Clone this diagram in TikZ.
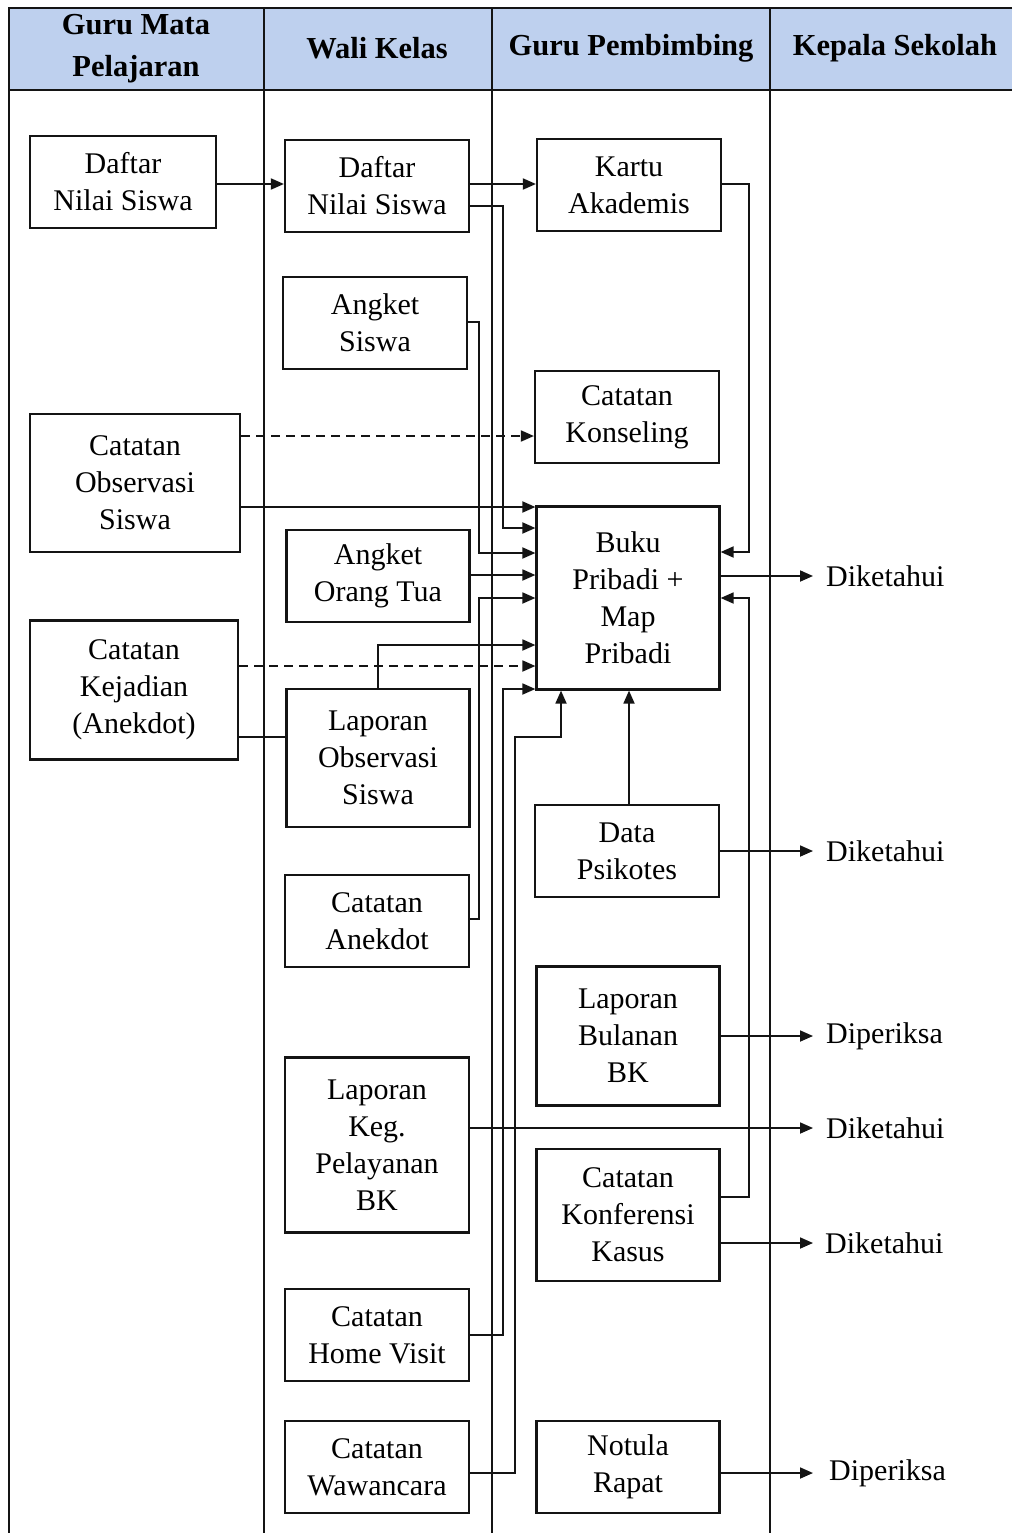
\documentclass[tikz,border=0pt]{standalone}
\usepackage{fontspec}
\setmainfont{Liberation Serif}
\usetikzlibrary{arrows.meta}
\definecolor{hdr}{RGB}{190,208,238}
\definecolor{ln}{RGB}{20,20,20}
\begin{document}
\begin{tikzpicture}[x=1pt,y=-1pt,
  box/.style={draw=ln,line width=2.2pt,align=center,inner sep=0pt,
    font=\fontsize{30}{37}\selectfont},
  hd/.style={align=center,inner sep=0pt,font=\bfseries\fontsize{30.5}{42}\selectfont},
  lbl/.style={anchor=west,inner sep=0pt,font=\fontsize{30}{37}\selectfont},
  tbl/.style={draw=ln,line width=2pt},
  con/.style={draw=ln,line width=1.8pt},
  arr/.style={con,-{Triangle[length=13pt,width=11pt]}},
  dsh/.style={arr,dash pattern=on 9pt off 6pt}]
\useasboundingbox (0,0) rectangle (1012,1533);
\fill[white] (0,0) rectangle (1012,1533);
% table
\fill[hdr] (9,8) rectangle (1012,90);
\draw[tbl] (1012,8) -- (9,8) -- (9,1533);
\draw[tbl] (9,90) -- (1012,90);
\draw[tbl] (264,8) -- (264,1533);
\draw[tbl] (492,8) -- (492,1533);
\draw[tbl] (770,8) -- (770,1533);
\node[hd] (h1) at (136,49) {Guru Mata\\Pelajaran};
\node[hd] (h2) at (377,48) {Wali Kelas};
\node[hd] (h3) at (631,48) {Guru Pembimbing};
\node[hd] (h4) at (895,48) {Kepala Sekolah};
% column 1
\node[box,minimum width=186pt,minimum height=92pt] (gd) at (123,182) {Daftar\\Nilai Siswa};
\node[box,minimum width=210pt,minimum height=138pt] (co) at (135,483) {Catatan\\Observasi\\Siswa};
\node[box,minimum width=208pt,minimum height=139pt] (ck) at (134,690) {Catatan\\Kejadian\\(Anekdot)};
% column 2
\node[box,minimum width=184pt,minimum height=92pt] (wd) at (377,186) {Daftar\\Nilai Siswa};
\node[box,minimum width=184pt,minimum height=92pt] (as) at (375,323) {Angket\\Siswa};
\node[box,minimum width=183pt,minimum height=92pt] (ao) at (378,576) {Angket\\Orang Tua};
\node[box,minimum width=183pt,minimum height=138pt] (lo) at (378,758) {Laporan\\Observasi\\Siswa};
\node[box,minimum width=184pt,minimum height=92pt] (ca) at (377,921) {Catatan\\Anekdot};
\node[box,minimum width=184pt,minimum height=175pt] (lk) at (377,1145) {Laporan\\Keg.\\Pelayanan\\BK};
\node[box,minimum width=184pt,minimum height=92pt] (hv) at (377,1335) {Catatan\\Home Visit};
\node[box,minimum width=184pt,minimum height=92pt] (cw) at (377,1467) {Catatan\\Wawancara};
% column 3
\node[box,minimum width=184pt,minimum height=92pt] (ka) at (629,185) {Kartu\\Akademis};
\node[box,minimum width=184pt,minimum height=92pt] (ks) at (627,417) {Catatan\\Konseling};
\node[box,minimum width=183pt,minimum height=183pt] (bp) at (628,598) {Buku\\Pribadi +\\Map\\Pribadi};
\node[box,minimum width=184pt,minimum height=92pt] (dp) at (627,851) {Data\\Psikotes};
\node[box,minimum width=183pt,minimum height=139pt] (lb) at (628,1036) {Laporan\\Bulanan\\BK};
\node[box,minimum width=183pt,minimum height=132pt] (kk) at (628,1215) {Catatan\\Konferensi\\Kasus};
\node[box,minimum width=183pt,minimum height=92pt] (nr) at (628,1467) {Notula\\Rapat};
% column 4 labels
\node[lbl] (d1) at (826,576) {Diketahui};
\node[lbl] (d2) at (826,851) {Diketahui};
\node[lbl] (p1) at (826,1036) {Diperiksa};
\node[lbl] (d3) at (826,1128) {Diketahui};
\node[lbl] (d4) at (825,1243) {Diketahui};
\node[lbl] (p2) at (829,1473) {Diperiksa};
% connectors
\draw[arr] (gd.east |- 0,184) -- (wd.west |- 0,184);
\draw[arr] (wd.east |- 0,184) -- (ka.west |- 0,184);
\draw[arr] (wd.east |- 0,206) -- (503,206) -- (503,528) -- (bp.west |- 0,528);
\draw[arr] (as.east |- 0,322) -- (479,322) -- (479,553) -- (bp.west |- 0,553);
\draw[dsh] (co.east |- 0,436) -- (ks.west |- 0,436);
\draw[arr] (co.east |- 0,507) -- (bp.west |- 0,507);
\draw[arr] (ao.east |- 0,575) -- (bp.west |- 0,575);
\draw[arr] (ca.east |- 0,919) -- (479,919) -- (479,598) -- (bp.west |- 0,598);
\draw[arr] (lo.north) -- (lo.north |- 0,645) -- (bp.west |- 0,645);
\draw[dsh] (ck.east |- 0,666) -- (bp.west |- 0,666);
\draw[arr] (hv.east |- 0,1335) -- (503,1335) -- (503,689) -- (bp.west |- 0,689);
\draw[con] (ck.east |- 0,737) -- (lo.west |- 0,737);
\draw[arr] (cw.east |- 0,1473) -- (515,1473) -- (515,737) -- (561,737) -- (bp.south -| 561,0);
\draw[arr] (dp.north -| 629,0) -- (bp.south -| 629,0);
\draw[arr] (ka.east |- 0,184) -- (749,184) -- (749,552) -- (bp.east |- 0,552);
\draw[arr] (kk.east |- 0,1197) -- (749,1197) -- (749,598) -- (bp.east |- 0,598);
\draw[arr,shorten >=13pt] (bp.east |- 0,576) -- (d1.west);
\draw[arr,shorten >=13pt] (dp.east |- 0,851) -- (d2.west);
\draw[arr,shorten >=13pt] (lb.east |- 0,1036) -- (p1.west);
\draw[arr,shorten >=13pt] (lk.east |- 0,1128) -- (d3.west);
\draw[arr,shorten >=12pt] (kk.east |- 0,1243) -- (d4.west);
\draw[arr,shorten >=16pt] (nr.east |- 0,1473) -- (p2.west);
\end{tikzpicture}
\end{document}
